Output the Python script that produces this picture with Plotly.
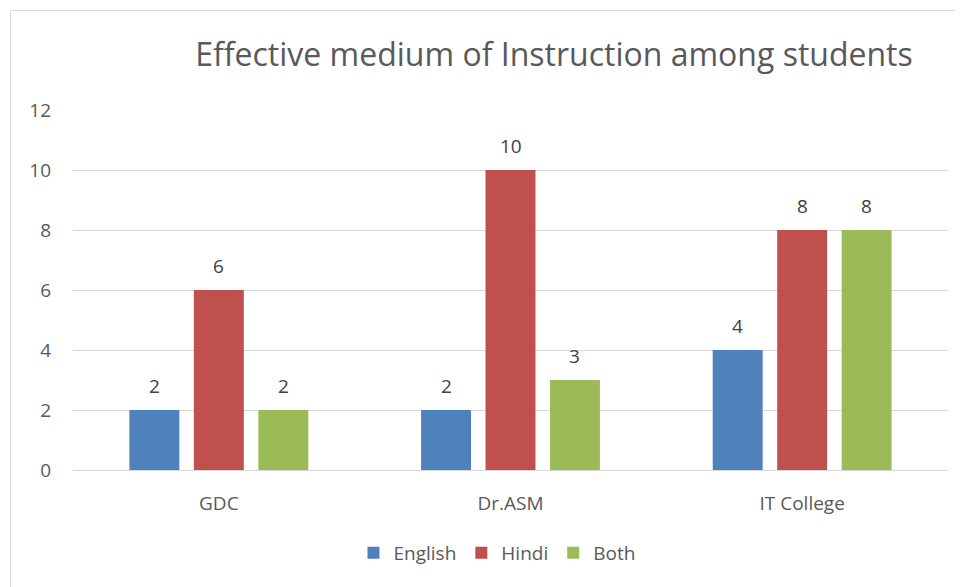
import plotly.graph_objects as go

categories = ["GDC", "Dr.ASM", "IT College"]
english = [2, 2, 4]
hindi = [6, 10, 8]
both = [2, 3, 8]
series_names = ["English", "Hindi", "Both"]
colors = ["#4F81BD", "#C0504D", "#9BBB59"]
y_ticks = [0, 2, 4, 6, 8, 10, 12]

FONT = "Open Sans"
OFF = 8  # page body margin
W, H = 963 - OFF, 587 - OFF
L, R, T, B = 73 - OFF, W - (948 - OFF), 110 - OFF, H - (470 - OFF)
pw, ph = W - L - R, H - T - B
BARGAP, GROUPGAP = 0.337, 0.225

def px2x(px):
    return (px - OFF - L) / pw

def py2y(py):
    return (H - B - (py - OFF)) / ph

fig = go.Figure()
slot = pw / len(categories) * (1 - BARGAP) / 3
annotations = []
for i, (name, vals, col) in enumerate(zip(series_names, [english, hindi, both], colors)):
    fig.add_trace(go.Bar(
        x=categories, y=vals, name=name, marker=dict(color=col, line=dict(width=0)),
    ))
    for c, v in zip(categories, vals):
        annotations.append(dict(x=c, y=v, xref="x", yref="y", text=str(v), showarrow=False,
                                xanchor="center", yanchor="bottom", yshift=9,
                                xshift=(i - 1) * slot,
                                font=dict(family=FONT, size=19, color="#404040")))

fig.update_layout(
    width=W, height=H,
    margin=dict(l=L, r=R, t=T, b=B),
    paper_bgcolor="white", plot_bgcolor="white",
    barmode="group", bargap=BARGAP, bargroupgap=GROUPGAP,
    font=dict(family=FONT, color="#595959"),
    title=dict(text="Effective medium of Instruction among students",
               font=dict(family=FONT, size=32, color="#595959"),
               x=px2x(554), xref="paper", xanchor="center",
               y=1 - (55 - OFF) / H, yref="container", yanchor="middle"),
    xaxis=dict(showgrid=False, showline=True, linecolor="#D9D9D9", linewidth=1,
               tickfont=dict(family=FONT, size=19, color="#595959"),
               ticks="", ticklabelstandoff=16),
    yaxis=dict(range=[0, 12], tickvals=y_ticks, showgrid=True, gridcolor="#D9D9D9",
               gridwidth=1, zeroline=False, showline=False,
               tickfont=dict(family=FONT, size=19, color="#595959"),
               ticks="", ticklabelstandoff=21),
    legend=dict(orientation="h", x=px2x(497), xanchor="center", y=py2y(553), yanchor="middle",
                font=dict(family=FONT, size=19, color="#595959"),
                itemwidth=30, traceorder="normal"),
    annotations=annotations,
    shapes=[dict(type="rect", xref="paper", yref="paper",
                 x0=px2x(10.5), x1=px2x(990), y0=py2y(620), y1=py2y(10.5),
                 line=dict(color="#D9D9D9", width=1), fillcolor="rgba(0,0,0,0)", layer="below")],
)
fig.write_html("out.html")
